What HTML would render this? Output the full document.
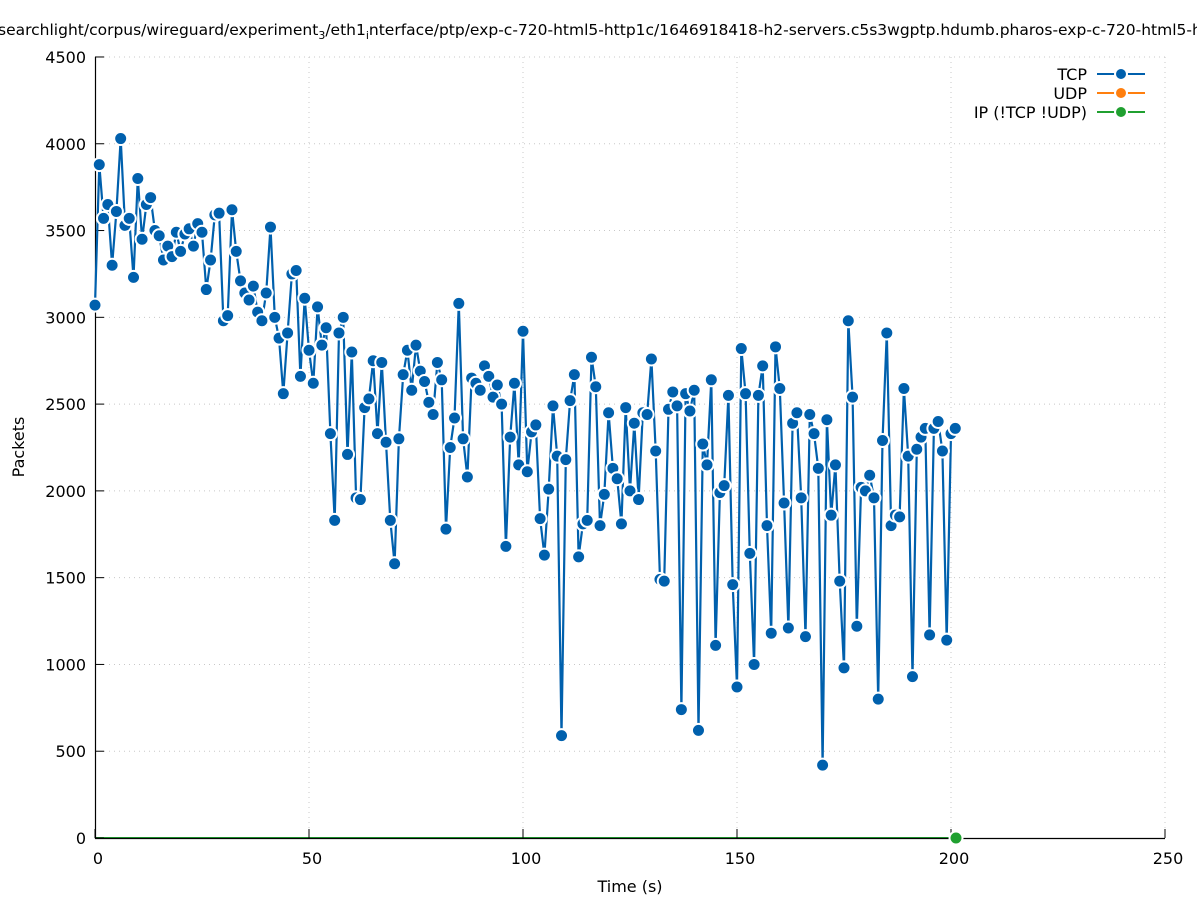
<!DOCTYPE html>
<html><head><meta charset="utf-8"><style>body{margin:0;background:#fff}svg{display:block;font-family:"DejaVu Sans","Liberation Sans",sans-serif}</style></head>
<body>
<svg id="s" width="1197" height="900" viewBox="0 0 1197 900" xmlns="http://www.w3.org/2000/svg">
<rect width="1197" height="900" fill="#fff"/>
<g id="grid" stroke="#c8c8c8" stroke-width="1" stroke-dasharray="1,4"></g>
<line x1="95" y1="838" x2="956" y2="838" stroke="#20a030" stroke-width="2"/>
<g id="ticks" stroke="#000" stroke-width="1"></g>
<path d="M95.5 57 V838.5 H1165" fill="none" stroke="#000" stroke-width="1.2"/>
<g id="labels" font-size="16" fill="#000"></g>
<text x="-2" y="35" font-size="15.5">searchlight/corpus/wireguard/experiment<tspan font-size="11" dy="4">3</tspan><tspan dy="-4">/eth1</tspan><tspan font-size="11" dy="4">i</tspan><tspan dy="-4">nterface/ptp/exp-c-720-html5-http1c/1646918418-h2-servers.c5s3wgptp.hdumb.pharos-exp-c-720-html5-http1c</tspan></text>
<text x="24" y="447" font-size="16" text-anchor="middle" transform="rotate(-90 24 447)">Packets</text>
<text x="630" y="892" font-size="16" text-anchor="middle">Time (s)</text>
<polyline id="tcp" fill="none" stroke="#0060ad" stroke-width="2.2"/>
<g id="dots"></g>
<circle cx="956" cy="838" r="6.5" fill="#20a030" stroke="#fff" stroke-width="2"/>
<g font-size="16" text-anchor="end">
<text x="1087" y="80">TCP</text><text x="1087" y="99">UDP</text><text x="1087" y="118">IP (!TCP  !UDP)</text>
</g>
<line x1="1097" y1="74" x2="1145" y2="74" stroke="#0060ad" stroke-width="2"/><circle cx="1121" cy="74" r="6" fill="#0060ad" stroke="#fff" stroke-width="2"/>
<line x1="1097" y1="93" x2="1145" y2="93" stroke="#ff7f0e" stroke-width="2"/><circle cx="1121" cy="93" r="6" fill="#ff7f0e" stroke="#fff" stroke-width="2"/>
<line x1="1097" y1="112" x2="1145" y2="112" stroke="#20a030" stroke-width="2"/><circle cx="1121" cy="112" r="6" fill="#20a030" stroke="#fff" stroke-width="2"/>
</svg>
<script>
var NS="http://www.w3.org/2000/svg";
function el(p,t,a,txt){var e=document.createElementNS(NS,t);for(var k in a)e.setAttribute(k,a[k]);if(txt!=null)e.textContent=txt;p.appendChild(e);return e;}
var X=function(v){return 95+v*4.28},Y=function(v){return 838-v*0.17356};
var g=document.getElementById('grid'),tk=document.getElementById('ticks'),lb=document.getElementById('labels');
for(var v=0;v<=4500;v+=500){var y=Y(v);if(v>0)el(g,'line',{x1:104,y1:y,x2:1165,y2:y});el(tk,'line',{x1:95,y1:y,x2:104,y2:y});el(lb,'text',{x:86,y:y+6,'text-anchor':'end'},v);}
for(var v=0;v<=250;v+=50){var x=X(v);if(v>0)el(g,'line',{x1:x,y1:57,x2:x,y2:829});el(tk,'line',{x1:x,y1:838,x2:x,y2:829});el(lb,'text',{x:x+3,y:864,'text-anchor':'middle'},v);}
var d=[3070,3880,3570,3650,3300,3610,4030,3530,3570,3230,3800,3450,3650,3690,3500,3470,3330,3410,3350,3490,3380,3480,3510,3410,3540,3490,3160,3330,3590,3600,2980,3010,3620,3380,3210,3140,3100,3180,3030,2980,3140,3520,3000,2880,2560,2910,3250,3270,2660,3110,2810,2620,3060,2840,2940,2330,1830,2910,3000,2210,2800,1960,1950,2480,2530,2750,2330,2740,2280,1830,1580,2300,2670,2810,2580,2840,2690,2630,2510,2440,2740,2640,1780,2250,2420,3080,2300,2080,2650,2620,2580,2720,2660,2540,2610,2500,1680,2310,2620,2150,2920,2110,2340,2380,1840,1630,2010,2490,2200,590,2180,2520,2670,1620,1810,1830,2770,2600,1800,1980,2450,2130,2070,1810,2480,2000,2390,1950,2450,2440,2760,2230,1490,1480,2470,2570,2490,740,2560,2460,2580,620,2270,2150,2640,1110,1990,2030,2550,1460,870,2820,2560,1640,1000,2550,2720,1800,1180,2830,2590,1930,1210,2390,2450,1960,1160,2440,2330,2130,420,2410,1860,2150,1480,980,2980,2540,1220,2020,2000,2090,1960,800,2290,2910,1800,1860,1850,2590,2200,930,2240,2310,2360,1170,2360,2400,2230,1140,2330,2360];
var pts=[],dg=document.getElementById('dots');
for(var i=0;i<d.length;i++){var x=X(i),y=Y(d[i]);pts.push(x.toFixed(1)+','+y.toFixed(1));el(dg,'circle',{cx:x,cy:y,r:6.5,fill:'#0060ad',stroke:'#fff','stroke-width':2});}
document.getElementById('tcp').setAttribute('points',pts.join(' '));
</script>
</body></html>
